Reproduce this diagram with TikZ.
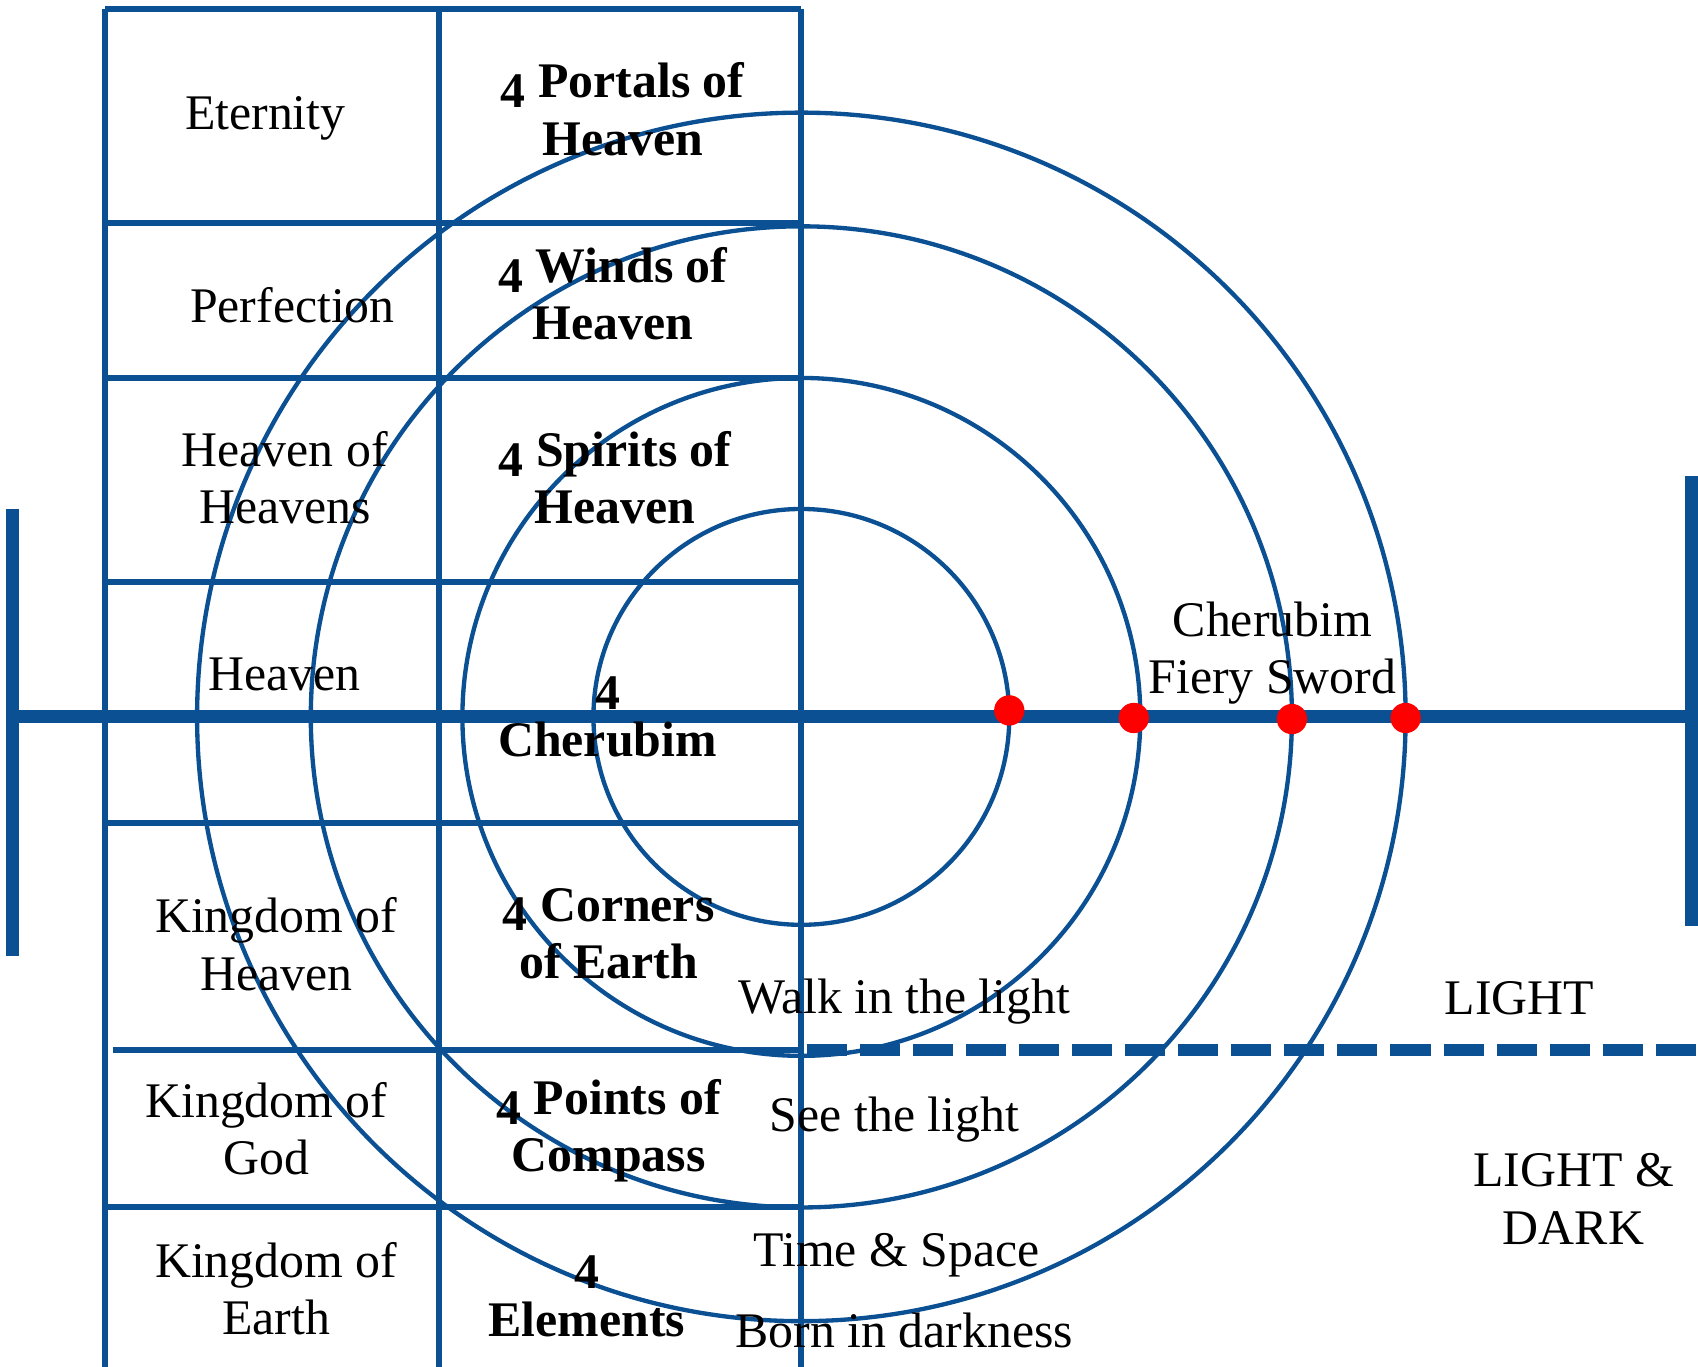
\documentclass[tikz,border=0pt]{standalone}
\usepackage{fontspec}
\setmainfont{Liberation Serif}
\definecolor{dblue}{RGB}{11,80,147}
\newcommand{\osfour}{\raisebox{-0.2em}{4}}
\begin{document}
\begin{tikzpicture}[x=1pt,y=-1pt,
  gridline/.style={draw=dblue,line width=5.5pt},
  ring/.style={draw=dblue,line width=4pt},
  axisline/.style={draw=dblue,line width=12pt},
  dashline/.style={draw=dblue,line width=11pt,dash pattern=on 37pt off 12pt},
  lbl/.style={font=\fontsize{46}{53}\selectfont,align=center,inner sep=0pt},
  blbl/.style={font=\fontsize{46}{53}\selectfont\bfseries,align=center,inner sep=0pt},
  reddot/.style={circle,fill=red,inner sep=0pt,minimum size=28pt}]
\useasboundingbox (0,0) rectangle (1568,1262);
% table
\draw[gridline] (97,8) -- (740,8);
\draw[gridline] (97,8) -- (97,1262);
\draw[gridline] (405,8) -- (405,1262);
\draw[gridline] (740,8) -- (740,1262);
\foreach \yy in {206,349,537,760,1115} \draw[gridline] (97,\yy) -- (740,\yy);
\draw[gridline] (104,970) -- (740,970);
% circles
\coordinate (c) at (740,662);
\draw[ring] (c) circle[radius=192];
\draw[ring] (c) circle[radius=313];
\draw[ring] (c) circle[radius=453];
\draw[ring] (c) circle[radius=558];
% axis
\coordinate (axL) at (10,662);
\coordinate (axR) at (1568,662);
\draw[axisline] (axL) -- (axR);
\coordinate (lbT) at (12,470);
\coordinate (lbB) at (12,883);
\draw[axisline] (lbT) -- (lbB);
\coordinate (rbT) at (1562,440);
\coordinate (rbB) at (1562,855);
\draw[axisline] (rbT) -- (rbB);
\coordinate (dL) at (745,970);
\coordinate (dR) at (1568,970);
\draw[dashline] (dL) -- (dR);
% dots
\node[reddot] (d1) at (932,656) {};
\node[reddot] (d2) at (1047,663) {};
\node[reddot] (d3) at (1193,664) {};
\node[reddot] (d4) at (1298,663) {};
% left column
\node[lbl] (eternity) at (245,109) {Eternity};
\node[lbl] (perfection) at (270,282) {Perfection};
\node[lbl] (hoh) at (263,441) {Heaven of\\Heavens};
\node[lbl] (heaven) at (263,623) {Heaven};
\node[lbl] (koh) at (255,872) {Kingdom of\\Heaven};
\node[lbl] (kog) at (246,1042) {Kingdom of\\God};
\node[lbl] (koe) at (255,1190) {Kingdom of\\Earth};
% right column
\node[blbl] (portals) at (575,101) {\osfour{} Portals of\\Heaven};
\node[blbl] (winds) at (566,271) {\osfour{} Winds of\\Heaven};
\node[blbl] (spirits) at (568,441) {\osfour{} Spirits of\\Heaven};
\node[blbl] (cherubim) at (561,662) {\osfour\\Cherubim};
\node[blbl] (corners) at (562,862) {\osfour{} Corners\\of Earth};
\node[blbl] (points) at (562,1044) {\osfour{} Points of\\Compass};
\node[blbl] (elements) at (542,1197) {\osfour\\Elements};
% right side
\node[lbl] (sword) at (1175,603) {Cherubim\\Fiery Sword};
\node[lbl] (walk) at (835,925) {Walk in the light};
\node[lbl] (light) at (1403,922) {LIGHT};
\node[lbl] (see) at (826,1034) {See the light};
\node[lbl] (lightdark) at (1453,1107) {LIGHT \&\\DARK};
\node[lbl] (time) at (828,1159) {Time \& Space};
\node[lbl] (born) at (835,1229) {Born in darkness};
\end{tikzpicture}
\end{document}
